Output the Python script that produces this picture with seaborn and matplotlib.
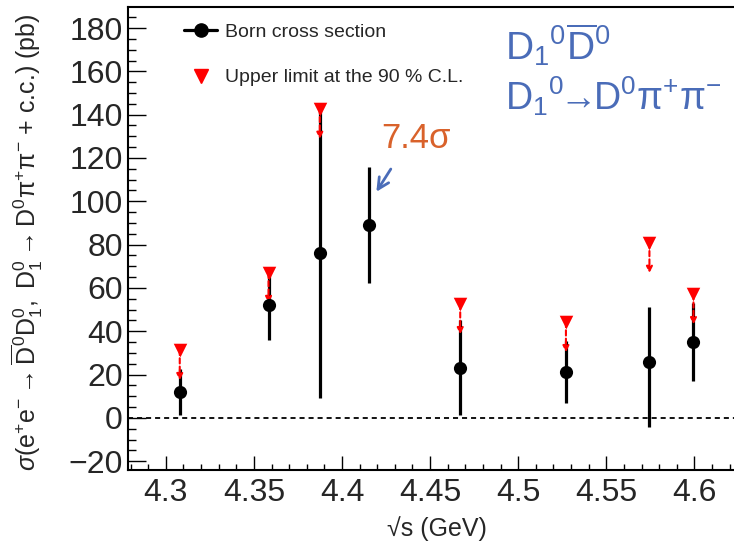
import matplotlib
matplotlib.use("Agg")
import matplotlib.pyplot as plt
from matplotlib.lines import Line2D
import seaborn as sns
import numpy as np

# ---- data ----
energies = [4.3079, 4.3583, 4.3874, 4.4156, 4.4671, 4.5271, 4.5745, 4.5995]
xsec     = [12.1, 52.1, 76.3, 89.1, 23.2, 21.2, 25.7, 34.9]
err_lo   = [10.7, 16.1, 67.2, 26.7, 21.8, 14.5, 29.7, 17.8]
err_hi   = [10.7, 16.1, 67.2, 26.6, 21.8, 14.5, 25.4, 18.0]

ul_energies = [4.3079, 4.3583, 4.3874, 4.4671, 4.5271, 4.5745, 4.5995]
ul_values   = [31.4, 67.0, 142.8, 52.6, 44.3, 80.9, 57.2]

xticks = [4.3, 4.35, 4.4, 4.45, 4.5, 4.55, 4.6]
xtick_labels = ["4.3", "4.35", "4.4", "4.45", "4.5", "4.55", "4.6"]
yticks = [-20, 0, 20, 40, 60, 80, 100, 120, 140, 160, 180]

sns.set_theme(style="ticks")
plt.rcParams["font.family"] = ["Liberation Sans", "DejaVu Sans"]
plt.rcParams["mathtext.fontset"] = "custom"
plt.rcParams["mathtext.rm"] = "Liberation Sans"
plt.rcParams["mathtext.it"] = "Liberation Sans:italic"
plt.rcParams["mathtext.bf"] = "Liberation Sans:bold"
plt.rcParams["mathtext.fallback"] = "stixsans"

fig = plt.figure(figsize=(7.34, 5.52), dpi=100)
ax = fig.add_axes([0.1748, 0.1491, 0.8252, 0.8382])

# zero line
ax.axhline(0, color="black", lw=1.3, ls=(0, (2.8, 2.2)), zorder=1)

# error bars
ax.errorbar(energies, xsec, yerr=[err_lo, err_hi], fmt="none", ecolor="black",
            elinewidth=2.3, capsize=0, zorder=2)

# upper-limit arrows
arrow_len = 14.0
for e, u in zip(ul_energies, ul_values):
    ax.annotate("", xy=(e, u - arrow_len), xytext=(e, u),
                arrowprops=dict(arrowstyle="-|>", color="red", lw=1.5,
                                ls=(0, (2.5, 1.5)), mutation_scale=9,
                                shrinkA=0, shrinkB=0),
                zorder=3)

sns.scatterplot(x=energies, y=xsec, ax=ax, color="black", marker="o", s=90,
                edgecolor="black", linewidth=0, zorder=4, legend=False)
sns.scatterplot(x=ul_energies, y=ul_values, ax=ax, color="red", marker="v", s=95,
                edgecolor="red", linewidth=0, zorder=5, legend=False)

ax.set_xlim(4.2787, 4.6225)
ax.set_ylim(-23.9, 189.7)
ax.set_xticks(xticks)
ax.set_xticklabels(xtick_labels)
ax.set_yticks(yticks)
ax.set_xticks(np.arange(4.28, 4.625, 0.01), minor=True)
ax.set_yticks(np.arange(-20, 190, 5), minor=True)

ax.tick_params(axis="both", which="both", direction="in", labelsize=23,
               color="black", width=1.0)
ax.tick_params(axis="x", which="major", length=10, pad=6)
ax.tick_params(axis="x", which="minor", length=4.5)
ax.tick_params(axis="y", which="major", length=13, pad=4)
ax.tick_params(axis="y", which="minor", length=6)
for s in ["left", "bottom", "top"]:
    ax.spines[s].set_linewidth(1.5)
    ax.spines[s].set_color("black")
ax.spines["right"].set_visible(False)

ax.set_xlabel("√s (GeV)", fontsize=18)
ax.xaxis.set_label_coords(0.51, -0.1)
ax.set_ylabel(r"$\sigma(\mathrm{e^{+}e^{-}\rightarrow \overline{D}{}^{0}D_{1}^{0},\ D_{1}^{0}\rightarrow D^{0}\pi^{+}\pi^{-}}$ + c.c.) (pb)",
              fontsize=18)
ax.yaxis.set_label_coords(-0.1375, 0.492)

# legend
handles = [Line2D([0], [0], color="black", lw=2.3, marker="o", ms=9.5),
           Line2D([0], [0], color="red", lw=0, marker="v", ms=9.5)]
ax.legend(handles, ["Born cross section", "Upper limit at the 90 % C.L."],
          loc="upper left", bbox_to_anchor=(184 / 734, 1 - 23 / 552),
          bbox_transform=fig.transFigure, frameon=False, fontsize=14,
          handlelength=1.7, handletextpad=0.4, labelspacing=1.45,
          borderpad=0, borderaxespad=0)

# significance annotation
ax.text(4.4225, 124.5, "7.4σ", color="#D9622B", fontsize=25, va="baseline")
ax.annotate("", xy=(4.4195, 104.4), xytext=(4.4277, 114.9),
            arrowprops=dict(arrowstyle="->", color="#4A6CB8", lw=2,
                            mutation_scale=20, shrinkA=0, shrinkB=0))

blue = "#4A6CB8"
fig.text(505 / 734, 1 - 60 / 552, r"$\mathrm{D_{1}{}^{0}\overline{D}{}^{0}}$",
         color=blue, fontsize=28, va="baseline")
fig.text(505 / 734, 1 - 110 / 552,
         r"$\mathrm{D_{1}{}^{0}\!\!\rightarrow\!\!D^{0}\pi^{+}\pi^{-}}$",
         color=blue, fontsize=27, va="baseline")

fig.savefig("out.png", dpi=100)
